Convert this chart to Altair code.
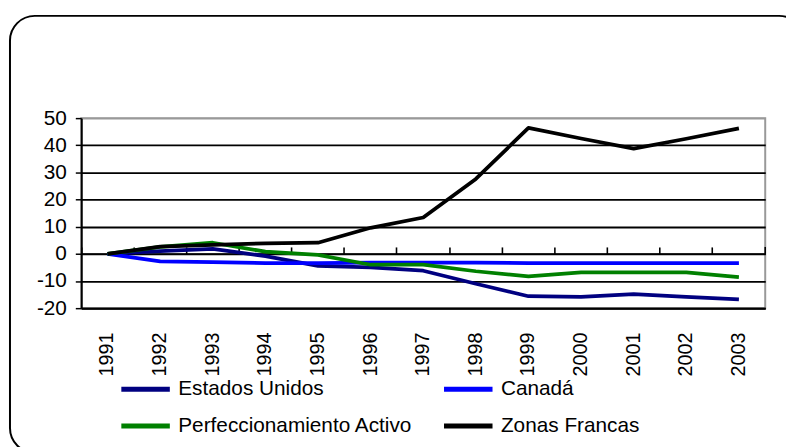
import altair as alt
import pandas as pd

years = [str(y) for y in range(1991, 2004)]
estados_unidos = [0, 1.0, 1.8, -0.8, -4.4, -5.0, -6.2, -11.0, -15.6, -15.8, -14.8, -15.8, -16.8]
canada = [0, -2.8, -3.0, -3.4, -3.4, -3.2, -3.2, -3.2, -3.4, -3.4, -3.4, -3.4, -3.4]
perfeccionamiento = [0, 2.6, 4.1, 0.8, -0.4, -4.0, -4.0, -6.4, -8.3, -6.8, -6.8, -6.8, -8.6]
zonas_francas = [0, 2.7, 3.3, 3.9, 4.1, 9.6, 13.4, 27.6, 46.4, 42.5, 38.8, 42.4, 46.2]

series_names = ["Estados Unidos", "Canadá", "Perfeccionamiento Activo", "Zonas Francas"]
series_values = [estados_unidos, canada, perfeccionamiento, zonas_francas]
series_colors = ["#000080", "#0000FF", "#008000", "#000000"]
y_ticks = [-20, -10, 0, 10, 20, 30, 40, 50]

rows = []
for name, vals in zip(series_names, series_values):
    for yr, v in zip(years, vals):
        rows.append({"year": yr, "value": v, "serie": name})
df = pd.DataFrame(rows)

W, H = 691, 192
Y0 = H * 50 / 70  # pixel row of the zero line
FONT = "Liberation Sans"

xscale = alt.Scale(type="band", domain=years, paddingInner=0, paddingOuter=0)
yscale = alt.Scale(domain=[-20, 50], nice=False, zero=False)

lines = alt.Chart(df).mark_line(strokeWidth=3.8, strokeJoin="round").encode(
    x=alt.X("year:N", scale=xscale, sort=years,
            axis=alt.Axis(orient="bottom", title=None, labelAngle=-90, ticks=False,
                          domainColor="black", domainWidth=2, labelFont=FONT,
                          labelFontSize=20, labelColor="black", labelPadding=24,
                          grid=False)),
    y=alt.Y("value:Q", scale=yscale,
            axis=alt.Axis(title=None, values=y_ticks, grid=True, labelOverlap=False,
                          labelExpr="toString(datum.value)",
                          gridColor={"condition": {"test": "datum.value === 50", "value": "#999999"}, "value": "black"},
                          gridWidth=1.8, domainColor="black", domainWidth=2,
                          tickColor="black", tickSize=6, tickWidth=1.5,
                          labelFont=FONT, labelFontSize=21, labelColor="black",
                          labelPadding=9)),
    color=alt.Color("serie:N", scale=alt.Scale(domain=series_names, range=series_colors),
                    legend=alt.Legend(title=None, orient="none", legendX=38, legendY=247,
                                      direction="horizontal",
                                      columns=2, columnPadding=21, rowPadding=-7,
                                      symbolType="stroke", symbolSize=2401,
                                      symbolStrokeWidth=5, labelFont=FONT,
                                      labelFontSize=21, labelColor="black",
                                      labelOffset=6, labelLimit=400, padding=0)),
    detail="serie:N",
    order=alt.Order("year:N"),
)

top_axis = alt.Chart(df).mark_point(opacity=0).encode(
    x=alt.X("year:N", scale=xscale, sort=years,
            axis=alt.Axis(orient="top", title=None, labels=False, ticks=True,
                          tickSize=7, tickWidth=1.6, tickColor="black",
                          bandPosition=0, domain=True, domainColor="black",
                          domainWidth=2, grid=False, offset=-Y0)),
)

end_tick = alt.Chart(pd.DataFrame({"k": [0]})).mark_rule(color="black", strokeWidth=1.6).encode(
    x=alt.value(W), y=alt.value(Y0), y2=alt.value(Y0 - 7),
)

border = alt.Chart(pd.DataFrame({"k": [0]})).mark_rect(
    cornerRadius=25, fillOpacity=0, stroke="black", strokeWidth=2, clip=False
).encode(
    x=alt.value(-72), x2=alt.value(730), y=alt.value(-103.3), y2=alt.value(338)
)

chart = alt.layer(border, lines, top_axis, end_tick).resolve_axis(x="independent").properties(
    width=W, height=H,
    autosize=alt.AutoSizeParams(type="none"),
    padding={"left": 74, "top": 109, "right": 21, "bottom": 138},
).configure_view(stroke="#999999", strokeWidth=2)

chart.save("out.html", embed_options={"renderer": "svg", "actions": False})
